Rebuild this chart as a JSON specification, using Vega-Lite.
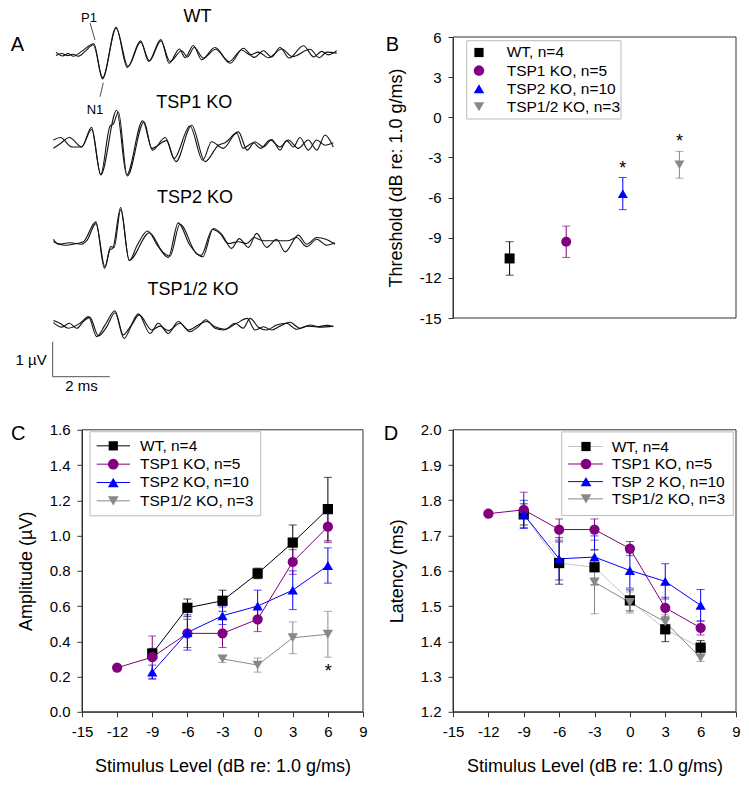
{
"$schema":"https://vega.github.io/schema/vega-lite/v6.json",
"autosize":{"type":"none"},
"padding":{"left":82,"top":37,"right":667,"bottom":752},
"background":"white",
"spacing":28.8,
"bounds":"full",
"datasets":{
"thr":[
{"series":"WT","x":1,"y":-10.55,"err":1.25},
{"series":"TSP1 KO","x":2,"y":-9.3,"err":1.17},
{"series":"TSP2 KO","x":3,"y":-5.7,"err":1.2},
{"series":"TSP1/2 KO","x":4,"y":-3.55,"err":1.0}
],
"amp":[
{"series":"WT","x":-9,"y":0.33,"err":0.03},
{"series":"WT","x":-6,"y":0.59,"err":0.05},
{"series":"WT","x":-3,"y":0.63,"err":0.06},
{"series":"WT","x":0,"y":0.785,"err":0.03},
{"series":"WT","x":3,"y":0.96,"err":0.1},
{"series":"WT","x":6,"y":1.15,"err":0.18},
{"series":"TSP1 KO","x":-12,"y":0.25,"err":0},
{"series":"TSP1 KO","x":-9,"y":0.31,"err":0.12},
{"series":"TSP1 KO","x":-6,"y":0.445,"err":0.08},
{"series":"TSP1 KO","x":-3,"y":0.445,"err":0.08},
{"series":"TSP1 KO","x":0,"y":0.525,"err":0.07},
{"series":"TSP1 KO","x":3,"y":0.85,"err":0.07},
{"series":"TSP1 KO","x":6,"y":1.05,"err":0.09},
{"series":"TSP2 KO","x":-9,"y":0.225,"err":0.04},
{"series":"TSP2 KO","x":-6,"y":0.45,"err":0.1},
{"series":"TSP2 KO","x":-3,"y":0.545,"err":0.05},
{"series":"TSP2 KO","x":0,"y":0.6,"err":0.09},
{"series":"TSP2 KO","x":3,"y":0.69,"err":0.11},
{"series":"TSP2 KO","x":6,"y":0.83,"err":0.1},
{"series":"TSP1/2 KO","x":-3,"y":0.3,"err":0.02},
{"series":"TSP1/2 KO","x":0,"y":0.265,"err":0.04},
{"series":"TSP1/2 KO","x":3,"y":0.42,"err":0.09},
{"series":"TSP1/2 KO","x":6,"y":0.44,"err":0.13}
],
"lat":[
{"series":"WT","x":-9,"y":1.76,"err":0.03},
{"series":"WT","x":-6,"y":1.622,"err":0.06},
{"series":"WT","x":-3,"y":1.61,"err":0.05},
{"series":"WT","x":0,"y":1.516,"err":0.03},
{"series":"WT","x":3,"y":1.434,"err":0.035},
{"series":"WT","x":6,"y":1.382,"err":0.02},
{"series":"TSP1 KO","x":-12,"y":1.762,"err":0},
{"series":"TSP1 KO","x":-9,"y":1.773,"err":0.05},
{"series":"TSP1 KO","x":-6,"y":1.717,"err":0.03},
{"series":"TSP1 KO","x":-3,"y":1.717,"err":0.03},
{"series":"TSP1 KO","x":0,"y":1.663,"err":0.02},
{"series":"TSP1 KO","x":3,"y":1.495,"err":0.03},
{"series":"TSP1 KO","x":6,"y":1.438,"err":0.02},
{"series":"TSP2 KO","x":-9,"y":1.76,"err":0.04},
{"series":"TSP2 KO","x":-6,"y":1.634,"err":0.06},
{"series":"TSP2 KO","x":-3,"y":1.639,"err":0.06},
{"series":"TSP2 KO","x":0,"y":1.601,"err":0.05},
{"series":"TSP2 KO","x":3,"y":1.57,"err":0.05},
{"series":"TSP2 KO","x":6,"y":1.502,"err":0.045},
{"series":"TSP1/2 KO","x":-3,"y":1.568,"err":0.09},
{"series":"TSP1/2 KO","x":0,"y":1.51,"err":0.03},
{"series":"TSP1/2 KO","x":3,"y":1.455,"err":0.02},
{"series":"TSP1/2 KO","x":6,"y":1.353,"err":0.01}
],
"waves":[
{"g":"WT","r":1,"t":0.21,"v":7.75},{"g":"WT","r":1,"t":0.44,"v":7.64},{"g":"WT","r":1,"t":0.64,"v":7.71},{"g":"WT","r":1,"t":0.82,"v":7.63},{"g":"WT","r":1,"t":1.11,"v":7.77},{"g":"WT","r":1,"t":1.54,"v":7.99},{"g":"WT","r":1,"t":1.84,"v":6.98},{"g":"WT","r":1,"t":2.32,"v":8.46},{"g":"WT","r":1,"t":2.71,"v":7.31},{"g":"WT","r":1,"t":3.18,"v":8.07},{"g":"WT","r":1,"t":3.46,"v":7.48},{"g":"WT","r":1,"t":3.89,"v":8.11},{"g":"WT","r":1,"t":4.18,"v":7.43},{"g":"WT","r":1,"t":4.54,"v":7.84},{"g":"WT","r":1,"t":4.74,"v":7.59},{"g":"WT","r":1,"t":5.03,"v":7.94},{"g":"WT","r":1,"t":5.32,"v":7.53},{"g":"WT","r":1,"t":5.79,"v":7.88},{"g":"WT","r":1,"t":6.32,"v":7.43},{"g":"WT","r":1,"t":6.78,"v":7.86},{"g":"WT","r":1,"t":7.16,"v":7.6},{"g":"WT","r":1,"t":7.49,"v":7.79},{"g":"WT","r":1,"t":7.78,"v":7.61},{"g":"WT","r":1,"t":8.07,"v":7.88},{"g":"WT","r":1,"t":8.39,"v":7.58},{"g":"WT","r":1,"t":8.89,"v":7.93},{"g":"WT","r":1,"t":9.26,"v":7.61},{"g":"WT","r":1,"t":9.53,"v":7.77},{"g":"WT","r":1,"t":9.77,"v":7.67},{"g":"WT","r":1,"t":10.06,"v":7.79},
{"g":"WT","r":2,"t":0.21,"v":7.65},{"g":"WT","r":2,"t":0.41,"v":7.71},{"g":"WT","r":2,"t":0.61,"v":7.65},{"g":"WT","r":2,"t":0.8,"v":7.69},{"g":"WT","r":2,"t":0.99,"v":7.63},{"g":"WT","r":2,"t":1.23,"v":7.77},{"g":"WT","r":2,"t":1.52,"v":7.96},{"g":"WT","r":2,"t":1.85,"v":7.02},{"g":"WT","r":2,"t":2.32,"v":8.43},{"g":"WT","r":2,"t":2.74,"v":7.34},{"g":"WT","r":2,"t":3.18,"v":8.03},{"g":"WT","r":2,"t":3.49,"v":7.5},{"g":"WT","r":2,"t":3.89,"v":8.07},{"g":"WT","r":2,"t":4.21,"v":7.48},{"g":"WT","r":2,"t":4.62,"v":7.79},{"g":"WT","r":2,"t":4.82,"v":7.61},{"g":"WT","r":2,"t":5.06,"v":7.88},{"g":"WT","r":2,"t":5.38,"v":7.58},{"g":"WT","r":2,"t":5.81,"v":7.83},{"g":"WT","r":2,"t":6.28,"v":7.48},{"g":"WT","r":2,"t":6.73,"v":7.81},{"g":"WT","r":2,"t":7.02,"v":7.67},{"g":"WT","r":2,"t":7.31,"v":7.75},{"g":"WT","r":2,"t":7.66,"v":7.59},{"g":"WT","r":2,"t":8.13,"v":7.84},{"g":"WT","r":2,"t":8.51,"v":7.62},{"g":"WT","r":2,"t":9.12,"v":7.83},{"g":"WT","r":2,"t":9.45,"v":7.59},{"g":"WT","r":2,"t":9.71,"v":7.75},{"g":"WT","r":2,"t":10.06,"v":7.72},
{"g":"TSP1","r":1,"t":0.12,"v":5.24},{"g":"TSP1","r":1,"t":0.37,"v":5.31},{"g":"TSP1","r":1,"t":0.76,"v":5.04},{"g":"TSP1","r":1,"t":1.11,"v":5.04},{"g":"TSP1","r":1,"t":1.46,"v":5.6},{"g":"TSP1","r":1,"t":1.78,"v":4.24},{"g":"TSP1","r":1,"t":2.34,"v":6.09},{"g":"TSP1","r":1,"t":2.69,"v":4.24},{"g":"TSP1","r":1,"t":3.25,"v":5.79},{"g":"TSP1","r":1,"t":3.6,"v":4.95},{"g":"TSP1","r":1,"t":4.04,"v":5.31},{"g":"TSP1","r":1,"t":4.42,"v":4.62},{"g":"TSP1","r":1,"t":4.97,"v":5.66},{"g":"TSP1","r":1,"t":5.44,"v":4.62},{"g":"TSP1","r":1,"t":5.91,"v":5.09},{"g":"TSP1","r":1,"t":6.14,"v":5.16},{"g":"TSP1","r":1,"t":6.61,"v":5.47},{"g":"TSP1","r":1,"t":6.92,"v":4.95},{"g":"TSP1","r":1,"t":7.19,"v":5.19},{"g":"TSP1","r":1,"t":7.49,"v":5.04},{"g":"TSP1","r":1,"t":7.78,"v":5.25},{"g":"TSP1","r":1,"t":8.07,"v":4.95},{"g":"TSP1","r":1,"t":8.3,"v":5.22},{"g":"TSP1","r":1,"t":8.54,"v":5.04},{"g":"TSP1","r":1,"t":8.77,"v":5.31},{"g":"TSP1","r":1,"t":9.06,"v":4.95},{"g":"TSP1","r":1,"t":9.36,"v":5.24},{"g":"TSP1","r":1,"t":9.65,"v":5.09},{"g":"TSP1","r":1,"t":9.94,"v":5.16},
{"g":"TSP1","r":2,"t":0.12,"v":5.0},{"g":"TSP1","r":2,"t":0.37,"v":5.14},{"g":"TSP1","r":2,"t":0.68,"v":5.31},{"g":"TSP1","r":2,"t":1.11,"v":5.04},{"g":"TSP1","r":2,"t":1.46,"v":5.54},{"g":"TSP1","r":2,"t":1.78,"v":4.26},{"g":"TSP1","r":2,"t":2.11,"v":5.64},{"g":"TSP1","r":2,"t":2.22,"v":5.69},{"g":"TSP1","r":2,"t":2.4,"v":6.04},{"g":"TSP1","r":2,"t":2.71,"v":4.21},{"g":"TSP1","r":2,"t":3.3,"v":5.76},{"g":"TSP1","r":2,"t":3.57,"v":5.0},{"g":"TSP1","r":2,"t":4.09,"v":5.22},{"g":"TSP1","r":2,"t":4.35,"v":4.71},{"g":"TSP1","r":2,"t":4.91,"v":5.64},{"g":"TSP1","r":2,"t":5.36,"v":4.66},{"g":"TSP1","r":2,"t":5.67,"v":5.19},{"g":"TSP1","r":2,"t":6.08,"v":5.0},{"g":"TSP1","r":2,"t":6.55,"v":5.43},{"g":"TSP1","r":2,"t":6.78,"v":5.0},{"g":"TSP1","r":2,"t":7.13,"v":5.16},{"g":"TSP1","r":2,"t":7.39,"v":5.0},{"g":"TSP1","r":2,"t":7.72,"v":5.24},{"g":"TSP1","r":2,"t":8.07,"v":5.04},{"g":"TSP1","r":2,"t":8.36,"v":5.24},{"g":"TSP1","r":2,"t":8.71,"v":5.0},{"g":"TSP1","r":2,"t":9.06,"v":5.24},{"g":"TSP1","r":2,"t":9.36,"v":4.95},{"g":"TSP1","r":2,"t":9.65,"v":5.38},{"g":"TSP1","r":2,"t":9.94,"v":5.04},
{"g":"TSP2","r":1,"t":0.12,"v":2.33},{"g":"TSP2","r":1,"t":0.53,"v":2.23},{"g":"TSP2","r":1,"t":0.94,"v":2.28},{"g":"TSP2","r":1,"t":1.17,"v":2.33},{"g":"TSP2","r":1,"t":1.61,"v":2.9},{"g":"TSP2","r":1,"t":1.91,"v":1.57},{"g":"TSP2","r":1,"t":2.11,"v":2.11},{"g":"TSP2","r":1,"t":2.2,"v":2.14},{"g":"TSP2","r":1,"t":2.48,"v":3.31},{"g":"TSP2","r":1,"t":2.78,"v":1.79},{"g":"TSP2","r":1,"t":3.06,"v":2.23},{"g":"TSP2","r":1,"t":3.42,"v":2.64},{"g":"TSP2","r":1,"t":3.8,"v":2.19},{"g":"TSP2","r":1,"t":4.15,"v":1.88},{"g":"TSP2","r":1,"t":4.5,"v":2.87},{"g":"TSP2","r":1,"t":4.91,"v":2.23},{"g":"TSP2","r":1,"t":5.36,"v":1.9},{"g":"TSP2","r":1,"t":5.73,"v":2.71},{"g":"TSP2","r":1,"t":6.02,"v":2.55},{"g":"TSP2","r":1,"t":6.37,"v":2.14},{"g":"TSP2","r":1,"t":6.64,"v":2.42},{"g":"TSP2","r":1,"t":6.96,"v":2.17},{"g":"TSP2","r":1,"t":7.25,"v":2.57},{"g":"TSP2","r":1,"t":7.6,"v":2.17},{"g":"TSP2","r":1,"t":7.95,"v":2.4},{"g":"TSP2","r":1,"t":8.25,"v":2.04},{"g":"TSP2","r":1,"t":8.71,"v":2.52},{"g":"TSP2","r":1,"t":9.01,"v":2.26},{"g":"TSP2","r":1,"t":9.36,"v":2.45},{"g":"TSP2","r":1,"t":9.68,"v":2.4},{"g":"TSP2","r":1,"t":10.0,"v":2.26},
{"g":"TSP2","r":2,"t":0.12,"v":2.4},{"g":"TSP2","r":2,"t":0.29,"v":2.26},{"g":"TSP2","r":2,"t":0.7,"v":2.3},{"g":"TSP2","r":2,"t":1.11,"v":2.26},{"g":"TSP2","r":2,"t":1.29,"v":2.36},{"g":"TSP2","r":2,"t":1.61,"v":2.85},{"g":"TSP2","r":2,"t":1.93,"v":1.61},{"g":"TSP2","r":2,"t":2.13,"v":2.19},{"g":"TSP2","r":2,"t":2.25,"v":2.17},{"g":"TSP2","r":2,"t":2.48,"v":3.25},{"g":"TSP2","r":2,"t":2.78,"v":1.8},{"g":"TSP2","r":2,"t":3.49,"v":2.59},{"g":"TSP2","r":2,"t":3.95,"v":2.04},{"g":"TSP2","r":2,"t":4.21,"v":1.92},{"g":"TSP2","r":2,"t":4.56,"v":2.83},{"g":"TSP2","r":2,"t":5.15,"v":1.98},{"g":"TSP2","r":2,"t":5.3,"v":1.94},{"g":"TSP2","r":2,"t":5.7,"v":2.68},{"g":"TSP2","r":2,"t":5.96,"v":2.57},{"g":"TSP2","r":2,"t":6.26,"v":2.28},{"g":"TSP2","r":2,"t":6.61,"v":2.33},{"g":"TSP2","r":2,"t":6.9,"v":2.28},{"g":"TSP2","r":2,"t":7.16,"v":2.45},{"g":"TSP2","r":2,"t":7.49,"v":2.36},{"g":"TSP2","r":2,"t":7.95,"v":2.36},{"g":"TSP2","r":2,"t":8.33,"v":2.36},{"g":"TSP2","r":2,"t":8.65,"v":2.45},{"g":"TSP2","r":2,"t":9.01,"v":2.19},{"g":"TSP2","r":2,"t":9.36,"v":2.4},{"g":"TSP2","r":2,"t":9.71,"v":2.23},{"g":"TSP2","r":2,"t":10.0,"v":2.3},
{"g":"TSP12","r":1,"t":0.12,"v":0.08},{"g":"TSP12","r":1,"t":0.35,"v":0.0},{"g":"TSP12","r":1,"t":0.64,"v":-0.14},{"g":"TSP12","r":1,"t":1.05,"v":0.0},{"g":"TSP12","r":1,"t":1.35,"v":0.19},{"g":"TSP12","r":1,"t":1.64,"v":-0.38},{"g":"TSP12","r":1,"t":1.93,"v":-0.05},{"g":"TSP12","r":1,"t":2.28,"v":0.36},{"g":"TSP12","r":1,"t":2.57,"v":-0.33},{"g":"TSP12","r":1,"t":2.81,"v":-0.1},{"g":"TSP12","r":1,"t":3.1,"v":0.27},{"g":"TSP12","r":1,"t":3.51,"v":-0.29},{"g":"TSP12","r":1,"t":3.8,"v":0.0},{"g":"TSP12","r":1,"t":4.15,"v":-0.29},{"g":"TSP12","r":1,"t":4.5,"v":0.05},{"g":"TSP12","r":1,"t":4.91,"v":-0.24},{"g":"TSP12","r":1,"t":5.2,"v":-0.1},{"g":"TSP12","r":1,"t":5.47,"v":0.1},{"g":"TSP12","r":1,"t":5.79,"v":-0.14},{"g":"TSP12","r":1,"t":6.08,"v":-0.19},{"g":"TSP12","r":1,"t":6.55,"v":0.0},{"g":"TSP12","r":1,"t":6.92,"v":0.14},{"g":"TSP12","r":1,"t":7.19,"v":-0.19},{"g":"TSP12","r":1,"t":7.49,"v":-0.1},{"g":"TSP12","r":1,"t":7.78,"v":-0.19},{"g":"TSP12","r":1,"t":8.07,"v":-0.08},{"g":"TSP12","r":1,"t":8.42,"v":0.03},{"g":"TSP12","r":1,"t":8.77,"v":-0.14},{"g":"TSP12","r":1,"t":9.12,"v":-0.05},{"g":"TSP12","r":1,"t":9.47,"v":-0.11},{"g":"TSP12","r":1,"t":9.94,"v":-0.08},
{"g":"TSP12","r":2,"t":0.12,"v":0.02},{"g":"TSP12","r":2,"t":0.41,"v":-0.11},{"g":"TSP12","r":2,"t":0.68,"v":0.0},{"g":"TSP12","r":2,"t":0.94,"v":-0.14},{"g":"TSP12","r":2,"t":1.17,"v":0.05},{"g":"TSP12","r":2,"t":1.4,"v":0.17},{"g":"TSP12","r":2,"t":1.7,"v":-0.36},{"g":"TSP12","r":2,"t":1.99,"v":-0.1},{"g":"TSP12","r":2,"t":2.28,"v":0.3},{"g":"TSP12","r":2,"t":2.6,"v":-0.43},{"g":"TSP12","r":2,"t":2.87,"v":-0.05},{"g":"TSP12","r":2,"t":3.13,"v":0.24},{"g":"TSP12","r":2,"t":3.57,"v":-0.19},{"g":"TSP12","r":2,"t":3.86,"v":-0.08},{"g":"TSP12","r":2,"t":4.15,"v":-0.21},{"g":"TSP12","r":2,"t":4.56,"v":0.0},{"g":"TSP12","r":2,"t":4.85,"v":-0.19},{"g":"TSP12","r":2,"t":5.2,"v":-0.05},{"g":"TSP12","r":2,"t":5.5,"v":0.05},{"g":"TSP12","r":2,"t":5.79,"v":-0.1},{"g":"TSP12","r":2,"t":6.14,"v":-0.17},{"g":"TSP12","r":2,"t":6.49,"v":0.0},{"g":"TSP12","r":2,"t":6.78,"v":-0.14},{"g":"TSP12","r":2,"t":7.02,"v":0.14},{"g":"TSP12","r":2,"t":7.31,"v":-0.11},{"g":"TSP12","r":2,"t":7.6,"v":-0.19},{"g":"TSP12","r":2,"t":7.95,"v":-0.05},{"g":"TSP12","r":2,"t":8.3,"v":0.0},{"g":"TSP12","r":2,"t":8.65,"v":-0.17},{"g":"TSP12","r":2,"t":9.01,"v":-0.08},{"g":"TSP12","r":2,"t":9.36,"v":-0.1},{"g":"TSP12","r":2,"t":9.71,"v":-0.06},{"g":"TSP12","r":2,"t":9.94,"v":-0.1}
]
},
"vconcat":[
{"hconcat":[
{
"width":281,"height":281,
"layer":[
{"data":{"name":"waves"},"transform":[{"filter":"datum.g === 'WT' && datum.r === 1"}],"mark":{"type":"line","interpolate":"monotone","color":"#111111","strokeWidth":1.1},"encoding":{"x":{"field":"t","type":"quantitative","scale":{"domain":[1.123,10.982],"nice":false,"zero":false},"axis":null},"y":{"field":"v","type":"quantitative","scale":{"domain":[0.152,8.181],"nice":false,"zero":false},"axis":null}}},
{"data":{"name":"waves"},"transform":[{"filter":"datum.g === 'WT' && datum.r === 2"}],"mark":{"type":"line","interpolate":"monotone","color":"#111111","strokeWidth":1.1},"encoding":{"x":{"field":"t","type":"quantitative","axis":null},"y":{"field":"v","type":"quantitative","axis":null}}},
{"data":{"name":"waves"},"transform":[{"filter":"datum.g === 'TSP1' && datum.r === 1"}],"mark":{"type":"line","interpolate":"monotone","color":"#111111","strokeWidth":1.1},"encoding":{"x":{"field":"t","type":"quantitative","axis":null},"y":{"field":"v","type":"quantitative","axis":null}}},
{"data":{"name":"waves"},"transform":[{"filter":"datum.g === 'TSP1' && datum.r === 2"}],"mark":{"type":"line","interpolate":"monotone","color":"#111111","strokeWidth":1.1},"encoding":{"x":{"field":"t","type":"quantitative","axis":null},"y":{"field":"v","type":"quantitative","axis":null}}},
{"data":{"name":"waves"},"transform":[{"filter":"datum.g === 'TSP2' && datum.r === 1"}],"mark":{"type":"line","interpolate":"monotone","color":"#111111","strokeWidth":1.1},"encoding":{"x":{"field":"t","type":"quantitative","axis":null},"y":{"field":"v","type":"quantitative","axis":null}}},
{"data":{"name":"waves"},"transform":[{"filter":"datum.g === 'TSP2' && datum.r === 2"}],"mark":{"type":"line","interpolate":"monotone","color":"#111111","strokeWidth":1.1},"encoding":{"x":{"field":"t","type":"quantitative","axis":null},"y":{"field":"v","type":"quantitative","axis":null}}},
{"data":{"name":"waves"},"transform":[{"filter":"datum.g === 'TSP12' && datum.r === 1"}],"mark":{"type":"line","interpolate":"monotone","color":"#111111","strokeWidth":1.1},"encoding":{"x":{"field":"t","type":"quantitative","axis":null},"y":{"field":"v","type":"quantitative","axis":null}}},
{"data":{"name":"waves"},"transform":[{"filter":"datum.g === 'TSP12' && datum.r === 2"}],"mark":{"type":"line","interpolate":"monotone","color":"#111111","strokeWidth":1.1},"encoding":{"x":{"field":"t","type":"quantitative","axis":null},"y":{"field":"v","type":"quantitative","axis":null}}},
{"data":{"values":[{}]},"mark":{"type":"text","fontSize":18,"align":"center","baseline":"middle"},"encoding":{"x":{"datum":5.175,"axis":null},"y":{"datum":8.76,"axis":null},"text":{"value":"WT"}}},
{"data":{"values":[{}]},"mark":{"type":"text","fontSize":13,"align":"center","baseline":"middle"},"encoding":{"x":{"datum":1.368,"axis":null},"y":{"datum":8.724,"axis":null},"text":{"value":"P1"}}},
{"data":{"values":[{}]},"mark":{"type":"text","fontSize":13,"align":"center","baseline":"middle"},"encoding":{"x":{"datum":1.579,"axis":null},"y":{"datum":6.095,"axis":null},"text":{"value":"N1"}}},
{"data":{"values":[{}]},"mark":{"type":"rule","color":"#222222","strokeWidth":0.8},"encoding":{"x":{"datum":1.404,"axis":null},"y":{"datum":8.589,"axis":null},"x2":{"datum":1.579},"y2":{"datum":8.095}}},
{"data":{"values":[{}]},"mark":{"type":"rule","color":"#222222","strokeWidth":0.8},"encoding":{"x":{"datum":1.87,"axis":null},"y":{"datum":6.875,"axis":null},"x2":{"datum":1.754},"y2":{"datum":6.475}}},
{"data":{"values":[{}]},"mark":{"type":"text","fontSize":20,"align":"center","baseline":"middle"},"encoding":{"x":{"datum":-1.14,"axis":null},"y":{"datum":7.952,"axis":null},"text":{"value":"A"}}},
{"data":{"values":[{}]},"mark":{"type":"text","fontSize":18,"align":"center","baseline":"middle"},"encoding":{"x":{"datum":5.058,"axis":null},"y":{"datum":6.295,"axis":null},"text":{"value":"TSP1 KO"}}},
{"data":{"values":[{}]},"mark":{"type":"text","fontSize":18,"align":"center","baseline":"middle"},"encoding":{"x":{"datum":5.088,"axis":null},"y":{"datum":3.595,"axis":null},"text":{"value":"TSP2 KO"}}},
{"data":{"values":[{}]},"mark":{"type":"text","fontSize":18,"align":"center","baseline":"middle"},"encoding":{"x":{"datum":5.018,"axis":null},"y":{"datum":0.961,"axis":null},"text":{"value":"TSP1/2 KO"}}},
{"data":{"values":[{}]},"mark":{"type":"rule","color":"#555555","strokeWidth":1},"encoding":{"x":{"datum":0.095,"axis":null},"y":{"datum":-0.525,"axis":null},"x2":{"datum":0.095},"y2":{"datum":-1.525}}},
{"data":{"values":[{}]},"mark":{"type":"rule","color":"#555555","strokeWidth":1},"encoding":{"x":{"datum":0.095,"axis":null},"y":{"datum":-1.525,"axis":null},"x2":{"datum":2.095},"y2":{"datum":-1.525}}},
{"data":{"values":[{}]},"mark":{"type":"text","fontSize":15,"align":"right","baseline":"middle"},"encoding":{"x":{"datum":-0.116,"axis":null},"y":{"datum":-1.048,"axis":null},"text":{"value":"1 µV"}}},
{"data":{"values":[{}]},"mark":{"type":"text","fontSize":15,"align":"center","baseline":"middle"},"encoding":{"x":{"datum":1.105,"axis":null},"y":{"datum":-1.79,"axis":null},"text":{"value":"2 ms"}}}
]
},
{
"width":283,"height":281,
"layer":[
{"data":{"name":"thr"},"mark":{"type":"errorbar","ticks":{"size":8}},"encoding":{"x":{"field":"x","type":"quantitative","axis":null},"y":{"field":"y","type":"quantitative","title":"Threshold (dB re: 1.0 g/ms)"},"yError":{"field":"err"},"color":{"field":"series","type":"nominal","legend":null}}},
{"data":{"name":"thr"},"mark":{"type":"point","filled":true,"opacity":1,"size":100},"encoding":{"x":{"field":"x","type":"quantitative","scale":{"domain":[0,5],"nice":false,"zero":false},"axis":null},"y":{"field":"y","type":"quantitative","scale":{"domain":[-15,6],"nice":false,"zero":false},"axis":{"values":[-15,-12,-9,-6,-3,0,3,6],"format":"d","labelExpr":"replace(datum.label,'−','-')","title":"Threshold (dB re: 1.0 g/ms)"}},"color":{"field":"series","type":"nominal","scale":{"domain":["WT","TSP1 KO","TSP2 KO","TSP1/2 KO"],"range":["#000000","#800080","#0000ff","#888888"]},"legend":null},"shape":{"field":"series","type":"nominal","scale":{"domain":["WT","TSP1 KO","TSP2 KO","TSP1/2 KO"],"range":["square","circle","triangle-up","triangle-down"]},"legend":null}}},
{"data":{"values":[{}]},"mark":{"type":"rect","fill":"transparent","stroke":"#333333","strokeWidth":1},"encoding":{"x":{"datum":0,"axis":null},"x2":{"datum":5},"y":{"datum":-15},"y2":{"datum":6}}},
{"data":{"values":[{}]},"mark":{"type":"text","fontSize":18,"align":"center","baseline":"middle"},"encoding":{"x":{"datum":3,"axis":null},"y":{"datum":-3.86},"text":{"value":"*"}}},
{"data":{"values":[{}]},"mark":{"type":"text","fontSize":18,"align":"center","baseline":"middle"},"encoding":{"x":{"datum":4,"axis":null},"y":{"datum":-1.85},"text":{"value":"*"}}},
{"data":{"values":[{}]},"mark":{"type":"text","fontSize":20,"align":"center","baseline":"middle"},"encoding":{"x":{"datum":-1.069,"axis":null},"y":{"datum":5.4},"text":{"value":"B"}}},
{"data":{"values":[{}]},"mark":{"type":"rect","fill":"white","stroke":"#bbbbbb","strokeWidth":1},"encoding":{"x":{"datum":0.242,"axis":null},"x2":{"datum":2.968},"y":{"datum":5.723},"y2":{"datum":-0.128}}},
{"data":{"values":[{}]},"encoding":{"y":{"datum":4.842}},"layer":[
{"mark":{"type":"point","shape":"square","filled":true,"color":"#000000","size":85,"opacity":1},"encoding":{"x":{"datum":0.459,"axis":null}}},
{"mark":{"type":"text","fontSize":15.5,"align":"left","baseline":"middle"},"encoding":{"x":{"datum":0.949,"axis":null},"text":{"value":"WT, n=4"}}}]},
{"data":{"values":[{}]},"encoding":{"y":{"datum":3.489}},"layer":[
{"mark":{"type":"point","shape":"circle","filled":true,"color":"#800080","size":110,"opacity":1},"encoding":{"x":{"datum":0.459,"axis":null}}},
{"mark":{"type":"text","fontSize":15.5,"align":"left","baseline":"middle"},"encoding":{"x":{"datum":0.949,"axis":null},"text":{"value":"TSP1 KO, n=5"}}}]},
{"data":{"values":[{}]},"encoding":{"y":{"datum":2.136}},"layer":[
{"mark":{"type":"point","shape":"triangle-up","filled":true,"color":"#0000ff","size":110,"opacity":1},"encoding":{"x":{"datum":0.459,"axis":null}}},
{"mark":{"type":"text","fontSize":15.5,"align":"left","baseline":"middle"},"encoding":{"x":{"datum":0.949,"axis":null},"text":{"value":"TSP2 KO, n=10"}}}]},
{"data":{"values":[{}]},"encoding":{"y":{"datum":0.784}},"layer":[
{"mark":{"type":"point","shape":"triangle-down","filled":true,"color":"#888888","size":110,"opacity":1},"encoding":{"x":{"datum":0.459,"axis":null}}},
{"mark":{"type":"text","fontSize":15.5,"align":"left","baseline":"middle"},"encoding":{"x":{"datum":0.949,"axis":null},"text":{"value":"TSP1/2 KO, n=3"}}}]}
]
}
],"spacing":90,"bounds":"flush"},
{"hconcat":[
{
"width":281,"height":282,
"layer":[
{"data":{"name":"amp"},"transform":[{"filter":"datum.series === 'WT'"}],"mark":{"type":"line","color":"#000000","strokeWidth":1},"encoding":{"x":{"field":"x","type":"quantitative"},"y":{"field":"y","type":"quantitative"}}},
{"data":{"name":"amp"},"transform":[{"filter":"datum.series === 'TSP1 KO'"}],"mark":{"type":"line","color":"#800080","strokeWidth":1},"encoding":{"x":{"field":"x","type":"quantitative"},"y":{"field":"y","type":"quantitative"}}},
{"data":{"name":"amp"},"transform":[{"filter":"datum.series === 'TSP2 KO'"}],"mark":{"type":"line","color":"#0000ff","strokeWidth":1},"encoding":{"x":{"field":"x","type":"quantitative"},"y":{"field":"y","type":"quantitative"}}},
{"data":{"name":"amp"},"transform":[{"filter":"datum.series === 'TSP1/2 KO'"}],"mark":{"type":"line","color":"#888888","strokeWidth":1},"encoding":{"x":{"field":"x","type":"quantitative"},"y":{"field":"y","type":"quantitative"}}},
{"data":{"name":"amp"},"mark":{"type":"errorbar","ticks":{"size":8}},"encoding":{"x":{"field":"x","type":"quantitative"},"y":{"field":"y","type":"quantitative","title":"Amplitude (µV)"},"yError":{"field":"err"},"color":{"field":"series","type":"nominal","legend":null}}},
{"data":{"name":"amp"},"mark":{"type":"point","filled":true,"opacity":1,"size":105},"encoding":{"x":{"field":"x","type":"quantitative","scale":{"domain":[-15,9],"nice":false,"zero":false},"axis":{"values":[-15,-12,-9,-6,-3,0,3,6,9],"format":"d","labelExpr":"replace(datum.label,'−','-')","title":"Stimulus Level (dB re: 1.0 g/ms)"}},"y":{"field":"y","type":"quantitative","scale":{"domain":[0,1.6],"nice":false,"zero":false},"axis":{"values":[0,0.2,0.4,0.6,0.8,1.0,1.2,1.4,1.6],"format":".1f","title":"Amplitude (µV)"}},"color":{"field":"series","type":"nominal","scale":{"domain":["WT","TSP1 KO","TSP2 KO","TSP1/2 KO"],"range":["#000000","#800080","#0000ff","#888888"]},"legend":null},"shape":{"field":"series","type":"nominal","scale":{"domain":["WT","TSP1 KO","TSP2 KO","TSP1/2 KO"],"range":["square","circle","triangle-up","triangle-down"]},"legend":null}}},
{"data":{"values":[{}]},"mark":{"type":"rect","fill":"transparent","stroke":"#333333","strokeWidth":1},"encoding":{"x":{"datum":-15},"x2":{"datum":9},"y":{"datum":0},"y2":{"datum":1.6}}},
{"data":{"values":[{}]},"mark":{"type":"text","fontSize":18,"align":"center","baseline":"middle"},"encoding":{"x":{"datum":6.04},"y":{"datum":0.227},"text":{"value":"*"}}},
{"data":{"values":[{}]},"mark":{"type":"text","fontSize":20,"align":"center","baseline":"middle"},"encoding":{"x":{"datum":-20.44},"y":{"datum":1.577},"text":{"value":"C"}}},
{"data":{"values":[{}]},"mark":{"type":"rect","fill":"white","stroke":"#bbbbbb","strokeWidth":1},"encoding":{"x":{"datum":-14.317},"x2":{"datum":0.263},"y":{"datum":1.589},"y2":{"datum":1.112}}},
{"data":{"values":[{}]},"encoding":{"y":{"datum":1.509}},"layer":[
{"mark":{"type":"rule","color":"#000000","strokeWidth":1},"encoding":{"x":{"datum":-13.745},"x2":{"datum":-10.9}}},
{"mark":{"type":"point","shape":"square","filled":true,"color":"#000000","size":85,"opacity":1},"encoding":{"x":{"datum":-12.33}}},
{"mark":{"type":"text","fontSize":15.5,"align":"left","baseline":"middle"},"encoding":{"x":{"datum":-10.046},"text":{"value":"WT, n=4"}}}]},
{"data":{"values":[{}]},"encoding":{"y":{"datum":1.405}},"layer":[
{"mark":{"type":"rule","color":"#800080","strokeWidth":1},"encoding":{"x":{"datum":-13.745},"x2":{"datum":-10.9}}},
{"mark":{"type":"point","shape":"circle","filled":true,"color":"#800080","size":115,"opacity":1},"encoding":{"x":{"datum":-12.33}}},
{"mark":{"type":"text","fontSize":15.5,"align":"left","baseline":"middle"},"encoding":{"x":{"datum":-10.046},"text":{"value":"TSP1 KO, n=5"}}}]},
{"data":{"values":[{}]},"encoding":{"y":{"datum":1.301}},"layer":[
{"mark":{"type":"rule","color":"#0000ff","strokeWidth":1},"encoding":{"x":{"datum":-13.745},"x2":{"datum":-10.9}}},
{"mark":{"type":"point","shape":"triangle-up","filled":true,"color":"#0000ff","size":115,"opacity":1},"encoding":{"x":{"datum":-12.33}}},
{"mark":{"type":"text","fontSize":15.5,"align":"left","baseline":"middle"},"encoding":{"x":{"datum":-10.046},"text":{"value":"TSP2 KO, n=10"}}}]},
{"data":{"values":[{}]},"encoding":{"y":{"datum":1.197}},"layer":[
{"mark":{"type":"rule","color":"#888888","strokeWidth":1},"encoding":{"x":{"datum":-13.745},"x2":{"datum":-10.9}}},
{"mark":{"type":"point","shape":"triangle-down","filled":true,"color":"#888888","size":115,"opacity":1},"encoding":{"x":{"datum":-12.33}}},
{"mark":{"type":"text","fontSize":15.5,"align":"left","baseline":"middle"},"encoding":{"x":{"datum":-10.046},"text":{"value":"TSP1/2 KO, n=3"}}}]}
]
},
{
"width":283,"height":282,
"layer":[
{"data":{"name":"lat"},"transform":[{"filter":"datum.series === 'WT'"}],"mark":{"type":"line","color":"#c4c4c4","strokeWidth":1},"encoding":{"x":{"field":"x","type":"quantitative"},"y":{"field":"y","type":"quantitative"}}},
{"data":{"name":"lat"},"transform":[{"filter":"datum.series === 'TSP1 KO'"}],"mark":{"type":"line","color":"#800080","strokeWidth":1},"encoding":{"x":{"field":"x","type":"quantitative"},"y":{"field":"y","type":"quantitative"}}},
{"data":{"name":"lat"},"transform":[{"filter":"datum.series === 'TSP2 KO'"}],"mark":{"type":"line","color":"#0000ff","strokeWidth":1},"encoding":{"x":{"field":"x","type":"quantitative"},"y":{"field":"y","type":"quantitative"}}},
{"data":{"name":"lat"},"transform":[{"filter":"datum.series === 'TSP1/2 KO'"}],"mark":{"type":"line","color":"#888888","strokeWidth":1},"encoding":{"x":{"field":"x","type":"quantitative"},"y":{"field":"y","type":"quantitative"}}},
{"data":{"name":"lat"},"mark":{"type":"errorbar","ticks":{"size":8}},"encoding":{"x":{"field":"x","type":"quantitative"},"y":{"field":"y","type":"quantitative","title":"Latency (ms)"},"yError":{"field":"err"},"color":{"field":"series","type":"nominal","legend":null}}},
{"data":{"name":"lat"},"mark":{"type":"point","filled":true,"opacity":1,"size":105},"encoding":{"x":{"field":"x","type":"quantitative","scale":{"domain":[-15,9],"nice":false,"zero":false},"axis":{"values":[-15,-12,-9,-6,-3,0,3,6,9],"format":"d","labelExpr":"replace(datum.label,'−','-')","title":"Stimulus Level (dB re: 1.0 g/ms)"}},"y":{"field":"y","type":"quantitative","scale":{"domain":[1.2,2.0],"nice":false,"zero":false},"axis":{"values":[1.2,1.3,1.4,1.5,1.6,1.7,1.8,1.9,2.0],"format":".1f","title":"Latency (ms)"}},"color":{"field":"series","type":"nominal","scale":{"domain":["WT","TSP1 KO","TSP2 KO","TSP1/2 KO"],"range":["#000000","#800080","#0000ff","#888888"]},"legend":null},"shape":{"field":"series","type":"nominal","scale":{"domain":["WT","TSP1 KO","TSP2 KO","TSP1/2 KO"],"range":["square","circle","triangle-up","triangle-down"]},"legend":null}}},
{"data":{"values":[{}]},"mark":{"type":"rect","fill":"transparent","stroke":"#333333","strokeWidth":1},"encoding":{"x":{"datum":-15},"x2":{"datum":9},"y":{"datum":1.2},"y2":{"datum":2.0}}},
{"data":{"values":[{}]},"mark":{"type":"text","fontSize":20,"align":"center","baseline":"middle"},"encoding":{"x":{"datum":-20.27},"y":{"datum":1.989},"text":{"value":"D"}}},
{"data":{"values":[{}]},"mark":{"type":"rect","fill":"white","stroke":"#bbbbbb","strokeWidth":1},"encoding":{"x":{"datum":-5.782},"x2":{"datum":8.771},"y":{"datum":1.994},"y2":{"datum":1.757}}},
{"data":{"values":[{}]},"encoding":{"y":{"datum":1.9526}},"layer":[
{"mark":{"type":"rule","color":"#c4c4c4","strokeWidth":1},"encoding":{"x":{"datum":-5.247},"x2":{"datum":-2.279}}},
{"mark":{"type":"point","shape":"square","filled":true,"color":"#000000","size":85,"opacity":1},"encoding":{"x":{"datum":-3.721}}},
{"mark":{"type":"text","fontSize":15.5,"align":"left","baseline":"middle"},"encoding":{"x":{"datum":-1.541},"text":{"value":"WT, n=4"}}}]},
{"data":{"values":[{}]},"encoding":{"y":{"datum":1.903}},"layer":[
{"mark":{"type":"rule","color":"#800080","strokeWidth":1},"encoding":{"x":{"datum":-5.247},"x2":{"datum":-2.279}}},
{"mark":{"type":"point","shape":"circle","filled":true,"color":"#800080","size":115,"opacity":1},"encoding":{"x":{"datum":-3.721}}},
{"mark":{"type":"text","fontSize":15.5,"align":"left","baseline":"middle"},"encoding":{"x":{"datum":-1.541},"text":{"value":"TSP1 KO, n=5"}}}]},
{"data":{"values":[{}]},"encoding":{"y":{"datum":1.853}},"layer":[
{"mark":{"type":"rule","color":"#0000ff","strokeWidth":1},"encoding":{"x":{"datum":-5.247},"x2":{"datum":-2.279}}},
{"mark":{"type":"point","shape":"triangle-up","filled":true,"color":"#0000ff","size":115,"opacity":1},"encoding":{"x":{"datum":-3.721}}},
{"mark":{"type":"text","fontSize":15.5,"align":"left","baseline":"middle"},"encoding":{"x":{"datum":-1.541},"text":{"value":"TSP 2 KO, n=10"}}}]},
{"data":{"values":[{}]},"encoding":{"y":{"datum":1.804}},"layer":[
{"mark":{"type":"rule","color":"#888888","strokeWidth":1},"encoding":{"x":{"datum":-5.247},"x2":{"datum":-2.279}}},
{"mark":{"type":"point","shape":"triangle-down","filled":true,"color":"#888888","size":115,"opacity":1},"encoding":{"x":{"datum":-3.721}}},
{"mark":{"type":"text","fontSize":15.5,"align":"left","baseline":"middle"},"encoding":{"x":{"datum":-1.541},"text":{"value":"TSP1/2 KO, n=3"}}}]}
]
}
],"spacing":90,"bounds":"flush"}
],
"config":{
"font":"Liberation Sans",
"view":{"stroke":null},
"axis":{"labelFont":"Liberation Sans","labelFontSize":15,"labelColor":"#000000","titleFont":"Liberation Sans","titleFontSize":18,"titleFontWeight":"normal","titleColor":"#000000","tickColor":"#333333","domainColor":"#333333","tickSize":5,"tickCount":30,"grid":false,"labelFlush":false,"labelOverlap":false},
"axisY":{"titlePadding":14,"labelPadding":7},
"axisX":{"titlePadding":18,"labelPadding":8},
"text":{"font":"Liberation Sans","color":"#000000"}
}
}
